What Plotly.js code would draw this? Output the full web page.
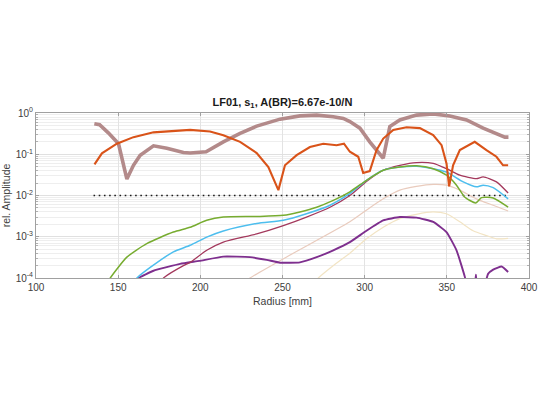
<!DOCTYPE html>
<html>
<head>
<meta charset="utf-8">
<script src="https://cdn.plot.ly/plotly-3.0.1.min.js"></script>
<style>html,body{margin:0;padding:0;background:#fff;}#chart{width:540px;height:406px;}</style>
</head>
<body>
<div id="chart"></div>
<script>
// ---- data ----
const titleText = '<b>LF01, s<sub>1</sub>, A(BR)=6.67e-10/N</b>';
const xTitle = 'Radius [mm]';
const yTitle = 'rel. Amplitude';
const yTickVals = [1e-4, 1e-3, 1e-2, 1e-1, 1];
const yTickText = ['10<sup>-4</sup>', '10<sup>-3</sup>', '10<sup>-2</sup>', '10<sup>-1</sup>', '10<sup>0</sup>'];
const xTickVals = [100, 150, 200, 250, 300, 350, 400];

// thick mauve curve
const mauveX = [135.5, 138.7, 144, 150.2, 155.3, 159.3, 163.4, 171.5, 179.6, 189.7, 193.8, 203.5, 214, 224.2, 234.3, 248.5, 260.6, 270.8, 280.9, 287, 291, 297.1, 303.1, 311.3, 315.3, 321.4, 331.5, 341.7, 351.8, 362, 372.1, 380.2, 385.3, 387.5];
const mauveY = [0.55, 0.52, 0.33, 0.18, 0.025, 0.054, 0.095, 0.16, 0.14, 0.11, 0.107, 0.115, 0.2, 0.32, 0.48, 0.71, 0.85, 0.89, 0.81, 0.74, 0.62, 0.43, 0.2, 0.08, 0.47, 0.68, 0.89, 0.95, 0.85, 0.68, 0.43, 0.31, 0.26, 0.26];

// orange curve
const orangeX = [135.6, 140.1, 149.2, 159.3, 171.5, 183.6, 193.8, 205.9, 214, 224.2, 234.3, 241.4, 247.5, 251.5, 258.6, 266.7, 274.8, 282.9, 287.4, 291, 296.1, 299.1, 303.1, 307.2, 311.3, 317.4, 325.5, 333.6, 341.7, 346.8, 349.8, 351.4, 353.8, 357.9, 367, 374.1, 380.2, 384.2, 387.3];
const orangeY = [0.057, 0.105, 0.18, 0.26, 0.34, 0.37, 0.39, 0.355, 0.29, 0.2, 0.107, 0.049, 0.0135, 0.054, 0.095, 0.15, 0.18, 0.166, 0.18, 0.115, 0.087, 0.035, 0.039, 0.126, 0.24, 0.39, 0.45, 0.43, 0.29, 0.166, 0.06, 0.0166, 0.054, 0.126, 0.2, 0.126, 0.087, 0.054, 0.054];

// green curve
const greenX = [143, 145.2, 155.3, 167.4, 183.6, 193.8, 203.9, 214, 234.3, 250.5, 260.6, 270.8, 280.9, 291, 301.1, 311.3, 321.4, 331.5, 341.7, 349.8, 355.9, 361, 367.6, 371.1, 378.2, 387.3];
const greenY = [7e-5, 1e-4, 3.2e-4, 6.8e-4, 1.3e-3, 1.7e-3, 2.5e-3, 3.0e-3, 3.1e-3, 3.3e-3, 4.0e-3, 5.2e-3, 7.6e-3, 0.0123, 0.0234, 0.041, 0.049, 0.0525, 0.0447, 0.031, 0.0178, 0.0091, 0.0066, 0.0089, 0.0087, 0.0052];

// cyan curve
const cyanX = [158, 161.4, 169.5, 183.6, 193.8, 203.9, 214, 234.3, 250.5, 264.6, 278.9, 291, 301.1, 311.3, 321.4, 331.5, 341.7, 349.8, 360, 368, 372.1, 378.2, 387.3];
const cyanY = [7e-5, 1e-4, 1.8e-4, 4.3e-4, 6.2e-4, 9.8e-4, 1.38e-3, 2.1e-3, 2.5e-3, 3.6e-3, 5.8e-3, 0.0112, 0.0234, 0.041, 0.049, 0.0513, 0.0447, 0.037, 0.0214, 0.0162, 0.0178, 0.0155, 0.0083];

// dark red curve
const redX = [175, 177.6, 189.7, 193.8, 203.9, 214, 234.3, 250.5, 264.6, 278.9, 291, 301.1, 311.3, 321.4, 331.5, 341.7, 349.8, 357.9, 368, 372.1, 380.2, 387.3];
const redY = [7e-5, 1e-4, 2.0e-4, 2.4e-4, 4.7e-4, 7.4e-4, 1.17e-3, 1.86e-3, 3.0e-3, 5.2e-3, 0.01, 0.0219, 0.041, 0.054, 0.063, 0.060, 0.0447, 0.031, 0.0257, 0.0282, 0.0214, 0.0115];

// purple curve
const purpleX = [159, 162.4, 171.5, 187.7, 199.4, 214, 230.2, 240.4, 248.5, 260.6, 270.8, 280.9, 291, 301.1, 311.3, 321.4, 331.5, 341.7, 349.8, 355.9, 361, 364, 367, 367.7, 368.5, 372, 374, 375.1, 378.2, 383.3, 387.3];
const purpleY = [7e-5, 1e-4, 1.5e-4, 2.2e-4, 2.6e-4, 3.3e-4, 3.2e-4, 2.75e-4, 2.35e-4, 2.4e-4, 3.2e-4, 4.7e-4, 7.4e-4, 1.4e-3, 2.5e-3, 3.0e-3, 2.9e-3, 2.3e-3, 1.3e-3, 4.7e-4, 1.05e-4, 3e-5, 6e-5, 1.2e-4, 5e-5, 4e-5, 9e-5, 1.26e-4, 1.6e-4, 1.9e-4, 1.4e-4];

// light pink curve
const pinkX = [226, 230.2, 254.6, 291, 301, 311.3, 321.4, 331.5, 341.7, 349.8, 357.9, 368, 378.2, 387.3];
const pinkY = [7.5e-5, 1e-4, 3.6e-4, 2.3e-3, 4.4e-3, 8.3e-3, 0.0135, 0.0166, 0.0186, 0.0178, 0.0135, 8.3e-3, 5.8e-3, 4.2e-3];

// light yellow curve
const yellowX = [268, 271.8, 281, 291, 301.1, 311.3, 321.4, 331.5, 341.7, 349.8, 357.9, 366, 374.1, 380.2, 387.3];
const yellowY = [7e-5, 1e-4, 2e-4, 4.0e-4, 8.9e-4, 1.7e-3, 2.75e-3, 3.5e-3, 4.0e-3, 3.6e-3, 2.3e-3, 1.4e-3, 1.07e-3, 8.9e-4, 9.1e-4];

// threshold (dotted)
const thresholdX = [135, 388];
const thresholdY = [0.01, 0.01];

// ---- traces ----
function line(x, y, color, width, opts) {
  opts = opts || {};
  const ln = {color: color, width: width, dash: opts.dash || 'solid'};
  if (opts.smooth) { ln.shape = 'spline'; ln.smoothing = opts.smooth; }
  return {x: x, y: y, type: 'scatter', mode: 'lines', hoverinfo: 'skip', line: ln};
}
const traces = [
  line(yellowX, yellowY, '#f2e4c4', 1.2, {smooth: 0.6}),
  line(pinkX, pinkY, '#e9cbbd', 1.2, {smooth: 0.6}),
  line(thresholdX, thresholdY, '#1a1a1a', 1.6, {dash: '1.6px,3.6px'}),
  line(purpleX, purpleY, '#7e2f8e', 1.9, {smooth: 0.4}),
  line(redX, redY, '#a3385c', 1.3, {smooth: 0.6}),
  line(cyanX, cyanY, '#4dbeee', 1.5, {smooth: 0.6}),
  line(greenX, greenY, '#77ac30', 1.5, {smooth: 0.6}),
  line(mauveX, mauveY, '#b38a8a', 3.6),
  line(orangeX, orangeY, '#d95319', 2.1)
];

const axisFont = {family: 'Liberation Sans, Arial, sans-serif', size: 10, color: '#404040'};
const layout = {
  width: 540, height: 406,
  margin: {l: 36, r: 11, t: 113, b: 128, pad: 0},
  paper_bgcolor: '#ffffff', plot_bgcolor: '#ffffff',
  showlegend: false,
  title: {text: titleText, x: 0.523, xanchor: 'center', y: 1 - 102/406, yanchor: 'middle',
          font: {family: 'Liberation Sans, Arial, sans-serif', size: 11, color: '#1a1a1a'}},
  xaxis: {
    range: [100, 400], tickmode: 'array', tickvals: xTickVals,
    ticks: 'inside', ticklen: 3, tickcolor: '#a0a0a0',
    showline: true, linecolor: '#a0a0a0', linewidth: 1, mirror: 'ticks',
    showgrid: true, gridcolor: '#e3e3e3', gridwidth: 1, zeroline: false,
    tickfont: axisFont,
    title: {text: xTitle, font: {family: 'Liberation Sans, Arial, sans-serif', size: 10.5, color: '#404040'}, standoff: 5}
  },
  yaxis: {
    type: 'log', range: [-4, 0], tickmode: 'array', tickvals: yTickVals, ticktext: yTickText,
    ticks: 'inside', ticklen: 3, tickcolor: '#a0a0a0',
    showline: true, linecolor: '#a0a0a0', linewidth: 1, mirror: 'ticks',
    showgrid: true, gridcolor: '#e0e0e0', gridwidth: 1, zeroline: false,
    minor: {dtick: 'D1', showgrid: true, gridcolor: '#eeeeee', gridwidth: 1, ticks: 'inside', ticklen: 2, tickcolor: '#b0b0b0'},
    tickfont: axisFont,
    title: {text: yTitle, font: {family: 'Liberation Sans, Arial, sans-serif', size: 10.5, color: '#404040'}, standoff: 6}
  }
};

Plotly.newPlot('chart', traces, layout, {staticPlot: true, displayModeBar: false});
</script>
</body>
</html>
